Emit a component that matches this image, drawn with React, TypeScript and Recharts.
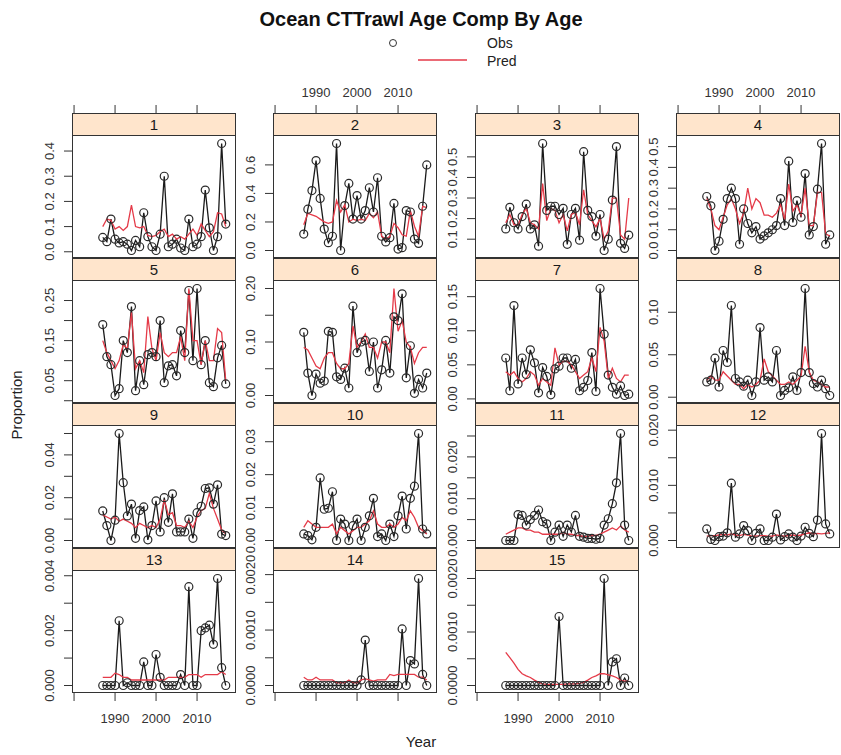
import { LineChart, Line, XAxis, YAxis } from 'recharts';

const YEARS = [
  1987, 1988, 1989, 1990, 1991, 1992, 1993, 1994, 1995, 1996, 1997, 1998, 1999, 2000, 2001, 2002,
  2003, 2004, 2005, 2006, 2007, 2008, 2009, 2010, 2011, 2012, 2013, 2014, 2015, 2016, 2017,
];

const AGES = ['1', '2', '3', '4', '5', '6', '7', '8', '9', '10', '11', '12', '13', '14', '15'];

// observed / predicted proportions, one pair per age
const OBS_1 = [0.057, 0.04, 0.13, 0.05, 0.035, 0.04, 0.03, 0.005, 0.045, 0.02, 0.155, 0.06, 0.02, 0.005, 0.07, 0.30, 0.02, 0.03, 0.05, 0.015, 0.005, 0.13, 0.02, 0.03, 0.06, 0.245, 0.095, 0.005, 0.06, 0.43, 0.11];
const PRED_1 = [0.10, 0.13, 0.125, 0.09, 0.10, 0.085, 0.10, 0.185, 0.10, 0.095, 0.10, 0.065, 0.06, 0.065, 0.08, 0.09, 0.06, 0.07, 0.05, 0.06, 0.05, 0.07, 0.09, 0.065, 0.11, 0.085, 0.06, 0.08, 0.155, 0.15, 0.10];
const OBS_2 = [0.115, 0.29, 0.42, 0.63, 0.365, 0.15, 0.055, 0.10, 0.75, 0.0, 0.315, 0.47, 0.22, 0.385, 0.22, 0.28, 0.44, 0.27, 0.51, 0.10, 0.06, 0.09, 0.33, 0.01, 0.02, 0.28, 0.27, 0.08, 0.05, 0.31, 0.60];
const PRED_2 = [0.18, 0.26, 0.25, 0.24, 0.22, 0.20, 0.19, 0.20, 0.35, 0.27, 0.32, 0.20, 0.22, 0.21, 0.22, 0.21, 0.26, 0.23, 0.27, 0.10, 0.08, 0.10, 0.19, 0.16, 0.11, 0.10, 0.28, 0.17, 0.10, 0.31, 0.30];
const OBS_3 = [0.15, 0.255, 0.18, 0.15, 0.21, 0.27, 0.15, 0.17, 0.066, 0.565, 0.24, 0.26, 0.26, 0.22, 0.25, 0.075, 0.22, 0.25, 0.095, 0.525, 0.24, 0.21, 0.115, 0.22, 0.045, 0.10, 0.29, 0.55, 0.08, 0.055, 0.12];
const PRED_3 = [0.18, 0.22, 0.17, 0.17, 0.22, 0.25, 0.18, 0.17, 0.15, 0.37, 0.19, 0.25, 0.24, 0.18, 0.22, 0.14, 0.22, 0.23, 0.17, 0.34, 0.22, 0.19, 0.16, 0.20, 0.10, 0.14, 0.30, 0.30, 0.12, 0.10, 0.30];
const OBS_4 = [0.26, 0.215, 0.0, 0.045, 0.15, 0.25, 0.30, 0.25, 0.03, 0.20, 0.13, 0.085, 0.115, 0.055, 0.07, 0.085, 0.10, 0.12, 0.25, 0.12, 0.43, 0.135, 0.24, 0.16, 0.37, 0.075, 0.115, 0.295, 0.515, 0.03, 0.075];
const PRED_4 = [0.25, 0.20, 0.12, 0.10, 0.16, 0.22, 0.25, 0.20, 0.13, 0.18, 0.30, 0.20, 0.25, 0.23, 0.17, 0.17, 0.16, 0.18, 0.22, 0.15, 0.32, 0.19, 0.22, 0.17, 0.30, 0.12, 0.12, 0.28, 0.28, 0.08, 0.07];
const OBS_5 = [0.19, 0.11, 0.09, 0.013, 0.03, 0.15, 0.12, 0.235, 0.025, 0.10, 0.04, 0.115, 0.12, 0.11, 0.20, 0.045, 0.087, 0.09, 0.062, 0.175, 0.12, 0.275, 0.10, 0.28, 0.09, 0.15, 0.045, 0.035, 0.107, 0.138, 0.042];
const PRED_5 = [0.15, 0.12, 0.10, 0.08, 0.10, 0.14, 0.13, 0.22, 0.08, 0.10, 0.07, 0.21, 0.13, 0.10, 0.17, 0.12, 0.11, 0.12, 0.12, 0.16, 0.10, 0.28, 0.15, 0.15, 0.09, 0.15, 0.10, 0.10, 0.18, 0.17, 0.05];
const OBS_6 = [0.118, 0.042, 0.0, 0.04, 0.023, 0.027, 0.12, 0.118, 0.035, 0.03, 0.051, 0.014, 0.167, 0.08, 0.10, 0.103, 0.045, 0.10, 0.014, 0.048, 0.103, 0.042, 0.147, 0.14, 0.19, 0.033, 0.093, 0.004, 0.03, 0.014, 0.042];
const PRED_6 = [0.09, 0.085, 0.07, 0.055, 0.05, 0.07, 0.08, 0.08, 0.06, 0.05, 0.05, 0.06, 0.13, 0.09, 0.10, 0.115, 0.09, 0.09, 0.07, 0.10, 0.10, 0.08, 0.20, 0.12, 0.14, 0.10, 0.09, 0.06, 0.08, 0.09, 0.09];
const OBS_7 = [0.06, 0.012, 0.137, 0.022, 0.06, 0.036, 0.072, 0.053, 0.009, 0.046, 0.033, 0.006, 0.044, 0.048, 0.06, 0.06, 0.045, 0.058, 0.012, 0.017, 0.027, 0.068, 0.011, 0.162, 0.095, 0.035, 0.017, 0.007, 0.019, 0.005, 0.007];
const PRED_7 = [0.04, 0.035, 0.04, 0.03, 0.025, 0.03, 0.04, 0.035, 0.02, 0.03, 0.025, 0.02, 0.075, 0.05, 0.055, 0.055, 0.05, 0.04, 0.03, 0.035, 0.04, 0.06, 0.04, 0.105, 0.085, 0.03, 0.045, 0.03, 0.025, 0.035, 0.035];
const OBS_8 = [0.018, 0.02, 0.046, 0.012, 0.055, 0.041, 0.108, 0.022, 0.018, 0.013, 0.02, 0.002, 0.018, 0.082, 0.02, 0.024, 0.018, 0.055, 0.002, 0.008, 0.011, 0.024, 0.008, 0.029, 0.128, 0.029, 0.016, 0.012, 0.02, 0.01, 0.002];
const PRED_8 = [0.02, 0.025, 0.02, 0.02, 0.03, 0.025, 0.02, 0.015, 0.015, 0.01, 0.015, 0.012, 0.015, 0.02, 0.045, 0.03, 0.025, 0.02, 0.015, 0.015, 0.018, 0.015, 0.02, 0.025, 0.06, 0.03, 0.02, 0.018, 0.015, 0.012, 0.012];
const OBS_9 = [0.0138, 0.007, 0.0, 0.0095, 0.05, 0.027, 0.0115, 0.017, 0.001, 0.014, 0.0157, 0.0003, 0.007, 0.0185, 0.004, 0.02, 0.0085, 0.0218, 0.004, 0.004, 0.004, 0.01, 0.001, 0.013, 0.016, 0.0243, 0.0246, 0.017, 0.026, 0.003, 0.0023];
const PRED_9 = [0.012, 0.011, 0.01, 0.011, 0.009, 0.01, 0.009, 0.008, 0.006, 0.008, 0.007, 0.006, 0.007, 0.006, 0.01, 0.019, 0.012, 0.013, 0.007, 0.007, 0.006, 0.009, 0.006, 0.011, 0.014, 0.015, 0.022, 0.015, 0.01, 0.005, 0.003];
const OBS_10 = [0.002, 0.0015, 0.0002, 0.004, 0.019, 0.0095, 0.0098, 0.0148, 0.0, 0.0065, 0.005, 0.0, 0.0045, 0.0065, 0.0, 0.004, 0.0075, 0.0128, 0.0012, 0.002, 0.0, 0.005, 0.0012, 0.0075, 0.0135, 0.0035, 0.0128, 0.0165, 0.0325, 0.0035, 0.002];
const PRED_10 = [0.004, 0.006, 0.005, 0.004, 0.004, 0.004, 0.004, 0.005, 0.002, 0.004, 0.003, 0.002, 0.003, 0.004, 0.004, 0.005, 0.006, 0.009, 0.005, 0.004, 0.004, 0.005, 0.004, 0.005, 0.007, 0.006, 0.009, 0.007, 0.004, 0.003, 0.002];
const OBS_11 = [0.0, 0.0, 0.0, 0.0062, 0.006, 0.0037, 0.005, 0.006, 0.0073, 0.0045, 0.004, 0.0, 0.002, 0.0037, 0.001, 0.0037, 0.002, 0.006, 0.001, 0.0008, 0.0005, 0.0005, 0.0003, 0.0005, 0.0037, 0.0052, 0.0088, 0.0138, 0.0256, 0.0037, 0.0];
const PRED_11 = [0.0015, 0.002, 0.0025, 0.003, 0.003, 0.0025, 0.0025, 0.002, 0.002, 0.0015, 0.0015, 0.0015, 0.0015, 0.0015, 0.002, 0.0015, 0.0015, 0.0012, 0.0012, 0.001, 0.001, 0.0012, 0.0012, 0.0015, 0.002, 0.0025, 0.003, 0.0025, 0.0035, 0.0025, 0.002];
const OBS_12 = [0.0021, 0.0002, 0.0, 0.0007, 0.0008, 0.0014, 0.0104, 0.0006, 0.0012, 0.0027, 0.0018, 0.0, 0.0013, 0.0021, 0.0, 0.0, 0.0006, 0.0048, 0.0001, 0.0007, 0.0012, 0.0006, 0.0, 0.0008, 0.0024, 0.0013, 0.0007, 0.0037, 0.0194, 0.003, 0.0012];
const PRED_12 = [0.0008, 0.0009, 0.0009, 0.001, 0.0011, 0.001, 0.0012, 0.001, 0.0009, 0.0011, 0.001, 0.0008, 0.0008, 0.0009, 0.0009, 0.0008, 0.0008, 0.001, 0.0009, 0.0008, 0.0009, 0.001, 0.0009, 0.001, 0.0012, 0.0014, 0.0012, 0.0013, 0.0012, 0.0013, 0.0014];
const OBS_13 = [0.0, 0.0, 0.0, 0.0, 0.00236, 0.0, 0.0001, 0.0, 0.0, 0.0, 0.00086, 0.0, 0.0, 0.00113, 0.0003, 0.0, 0.0, 0.0, 0.0, 0.0004, 0.0, 0.0036, 0.0, 0.0, 0.002, 0.0021, 0.0022, 0.0015, 0.0039, 0.00065, 0.0];
const PRED_13 = [0.0003, 0.0003, 0.0003, 0.00045, 0.0004, 0.0003, 0.0003, 0.0002, 0.0002, 0.0002, 0.0002, 0.0002, 0.0002, 0.0002, 0.0002, 0.0002, 0.0003, 0.0003, 0.0003, 0.0003, 0.0003, 0.0004, 0.0004, 0.0004, 0.0003, 0.0004, 0.0004, 0.0004, 0.0004, 0.0005, 0.0004];
const OBS_14 = [0, 0, 0, 0, 0, 0, 0, 0, 0, 0, 0, 0, 0, 0, 0.0001, 0.00082, 0, 0, 0, 0, 0, 0, 0, 0, 0.00102, 0, 0.00045, 0.00039, 0.00193, 0.0002, 0];
const PRED_14 = [0.00015, 0.0001, 0.0001, 0.00015, 0.0001, 0.0001, 0.0001, 0.0001, 0.00005, 0.00005, 0.00005, 0.0001, 0.00005, 0.00005, 0.0001, 0.00012, 0.0001, 0.00008, 0.0001, 0.0001, 0.0001, 0.0002, 0.00018, 0.0002, 0.0002, 0.0002, 0.0002, 0.0002, 0.00015, 0.00015, 0.0001];
const OBS_15 = [0, 0, 0, 0, 0, 0, 0, 0, 0, 0, 0, 0, 0, 0.00129, 0, 0, 0, 0, 0, 0, 0, 0, 0, 0, 0.002, 0, 0.00044, 0.0005, 0, 0.00014, 0];
const PRED_15 = [0.00062, 0.00052, 0.00042, 0.0003, 0.00022, 0.00018, 0.00015, 0.0001, 0.00006, 0.00003, 0.00002, 0.00002, 0.00002, 0.00002, 0.00002, 0.00003, 0.00003, 0.00003, 0.00004, 0.00006, 0.0001, 0.00015, 0.00018, 0.00022, 0.00022, 0.0002, 0.00018, 0.00015, 0.0001, 0.00008, 0.00008];

const OBS = [OBS_1, OBS_2, OBS_3, OBS_4, OBS_5, OBS_6, OBS_7, OBS_8, OBS_9, OBS_10, OBS_11, OBS_12, OBS_13, OBS_14, OBS_15];
const PRED = [PRED_1, PRED_2, PRED_3, PRED_4, PRED_5, PRED_6, PRED_7, PRED_8, PRED_9, PRED_10, PRED_11, PRED_12, PRED_13, PRED_14, PRED_15];

// y ticks per panel, '' = tick without label
const Y_TICKS = [
  [0, 0.1, 0.2, 0.3, 0.4],
  [0, 0.2, 0.4, 0.6],
  [0.1, 0.2, 0.3, 0.4, 0.5],
  [0, 0.1, 0.2, 0.3, 0.4, 0.5],
  [0, 0.05, 0.1, 0.15, 0.2, 0.25],
  [0, 0.05, 0.1, 0.15, 0.2],
  [0, 0.05, 0.1, 0.15],
  [0, 0.05, 0.1],
  [0, 0.01, 0.02, 0.03, 0.04, 0.05],
  [0, 0.01, 0.02, 0.03],
  [0, 0.005, 0.01, 0.015, 0.02, 0.025],
  [0, 0.005, 0.01, 0.015, 0.02],
  [0, 0.001, 0.002, 0.003, 0.004],
  [0, 0.0005, 0.001, 0.0015, 0.002],
  [0, 0.0005, 0.001, 0.0015, 0.002],
];
const Y_TICK_LABELS = [
  ['0.0', '0.1', '0.2', '0.3', '0.4'],
  ['0.0', '0.2', '0.4', '0.6'],
  ['0.1', '0.2', '0.3', '0.4', '0.5'],
  ['0.0', '0.1', '0.2', '0.3', '0.4', '0.5'],
  ['', '0.05', '', '0.15', '', '0.25'],
  ['0.00', '', '0.10', '', '0.20'],
  ['0.00', '0.05', '0.10', '0.15'],
  ['0.00', '0.05', '0.10'],
  ['0.00', '', '0.02', '', '0.04', ''],
  ['0.00', '0.01', '0.02', '0.03'],
  ['0.000', '', '0.010', '', '0.020', ''],
  ['0.000', '', '0.010', '', '0.020'],
  ['0.000', '', '0.002', '', '0.004'],
  ['0.0000', '', '0.0010', '', '0.0020'],
  ['0.0000', '', '0.0010', '', '0.0020'],
];

const X_TICKS = [1980, 1990, 2000, 2010];
const X_TICK_LABELS = ['', '1990', '2000', '2010'];
const X_DOMAIN = [1979.5, 2019.5];

const FONT = '"Liberation Sans", Arial, Helvetica, sans-serif';
const INK = '#333';
const RED = '#e53a48';
const STRIP = '#ffe5cc';

const COL_X = [72, 273, 475, 676];
const ROW_Y = [113, 258, 403, 548];
const PLOT_W = 164;
const PLOT_H = 122;
const STRIP_H = 23;
const PAD_L = 40;
const PAD_T = 40;
const PAD_B = 36;
const PAD_R = 2;
const W = PAD_L + PLOT_W + PAD_R;
const H = PAD_T + STRIP_H + PLOT_H + PAD_B;
const TICK_FS = 13;

function Panel({ idx }: { idx: number }) {
  const col = idx % 4;
  const row = Math.floor(idx / 4);
  const obs = OBS[idx];
  const pred = PRED[idx];
  const data = YEARS.map((year, k) => ({ year, obs: obs[k], pred: pred[k] }));
  const all = [...obs, ...pred];
  const lo = Math.min(...all);
  const hi = Math.max(...all);
  const pad = (hi - lo) * 0.07;
  const domain = [lo - pad, hi + pad];
  const yTicks = Y_TICKS[idx].filter((t) => t >= domain[0] && t <= domain[1]);

  const topTicks = row === 0;
  const topLabels = row === 0 && col % 2 === 1;
  const botTicks = idx >= 12;
  const botLabels = idx >= 12 && col % 2 === 0;
  const plotBottom = PAD_T + STRIP_H + PLOT_H;

  const yTick = (p: any) => {
    const k = Y_TICKS[idx].indexOf(p.payload.value);
    const s = Y_TICK_LABELS[idx][k];
    if (!s) return <g />;
    const tx = PAD_L - 18;
    return (
      <text x={tx} y={p.y} transform={`rotate(-90 ${tx} ${p.y})`} textAnchor="middle" fontSize={TICK_FS} fill={INK} fontFamily={FONT}>
        {s}
      </text>
    );
  };
  const xTick = (show: boolean, y: number) => (p: any) => {
    const k = X_TICKS.indexOf(p.payload.value);
    if (!show || !X_TICK_LABELS[k]) return <g />;
    return (
      <text x={p.x} y={y} textAnchor="middle" fontSize={TICK_FS} fill={INK} fontFamily={FONT}>
        {X_TICK_LABELS[k]}
      </text>
    );
  };

  return (
    <div style={{ position: 'absolute', left: COL_X[col] - PAD_L, top: ROW_Y[row] - PAD_T, width: W, height: H }}>
      <LineChart width={W} height={H} data={data} margin={{ top: 0, right: PAD_R, bottom: 0, left: 0 }}>
        <XAxis
          xAxisId="t"
          orientation="top"
          dataKey="year"
          type="number"
          domain={X_DOMAIN}
          allowDataOverflow
          ticks={X_TICKS}
          interval={0}
          height={PAD_T + STRIP_H}
          axisLine={false}
          tickLine={topTicks ? { stroke: INK } : false}
          tickSize={STRIP_H + 8}
          tick={xTick(topLabels, PAD_T - 16)}
        />
        <XAxis
          xAxisId="b"
          orientation="bottom"
          dataKey="year"
          type="number"
          domain={X_DOMAIN}
          allowDataOverflow
          ticks={X_TICKS}
          interval={0}
          height={PAD_B}
          axisLine={false}
          tickLine={botTicks ? { stroke: INK } : false}
          tickSize={8}
          tick={xTick(botLabels, plotBottom + 30)}
        />
        <YAxis
          type="number"
          domain={domain}
          allowDataOverflow
          ticks={yTicks}
          interval={0}
          width={PAD_L}
          axisLine={false}
          tickLine={{ stroke: INK }}
          tickSize={8}
          tick={yTick}
        />
        <Line
          xAxisId="b"
          dataKey="obs"
          stroke="#1a1a1a"
          strokeWidth={1.3}
          dot={{ r: 4, stroke: '#2a2a2a', strokeWidth: 1.2, fill: 'none' }}
          activeDot={false}
          isAnimationActive={false}
        />
        <Line
          xAxisId="t"
          dataKey="pred"
          stroke={RED}
          strokeWidth={1.3}
          dot={false}
          activeDot={false}
          isAnimationActive={false}
        />
      </LineChart>
      <div
        style={{
          position: 'absolute',
          left: PAD_L,
          top: PAD_T,
          width: PLOT_W,
          height: STRIP_H,
          boxSizing: 'border-box',
          background: STRIP,
          border: `1px solid ${INK}`,
          display: 'flex',
          alignItems: 'center',
          justifyContent: 'center',
          fontSize: 15,
          color: '#1a1a1a',
          fontFamily: FONT,
        }}
      >
        {AGES[idx]}
      </div>
      <div
        style={{
          position: 'absolute',
          left: PAD_L,
          top: PAD_T + STRIP_H - 1,
          width: PLOT_W,
          height: PLOT_H + 1,
          boxSizing: 'border-box',
          border: `1px solid ${INK}`,
          pointerEvents: 'none',
        }}
      />
    </div>
  );
}

export default function App() {
  return (
    <div style={{ position: 'absolute', left: 0, top: 0, width: 841, height: 755, background: '#fff', fontFamily: FONT }}>
      <svg width={841} height={755} style={{ position: 'absolute', left: 0, top: 0 }} fontFamily={FONT}>
        <text x={421} y={26} textAnchor="middle" fontSize={20} fontWeight="bold" fill="#111">
          Ocean CTTrawl Age Comp By Age
        </text>
        <circle cx={393} cy={43} r={3.5} fill="none" stroke={INK} />
        <text x={487} y={48} fontSize={14} fill="#222">Obs</text>
        <line x1={418} x2={467} y1={60} y2={60} stroke={RED} strokeWidth={1.3} />
        <text x={487} y={66} fontSize={14} fill="#222">Pred</text>
        <text x={22} y={405} transform="rotate(-90 22 405)" textAnchor="middle" fontSize={15} fill="#222">
          Proportion
        </text>
        <text x={421} y={747} textAnchor="middle" fontSize={15} fill="#222">
          Year
        </text>
      </svg>
      {AGES.map((a, i) => (
        <Panel key={a} idx={i} />
      ))}
    </div>
  );
}
